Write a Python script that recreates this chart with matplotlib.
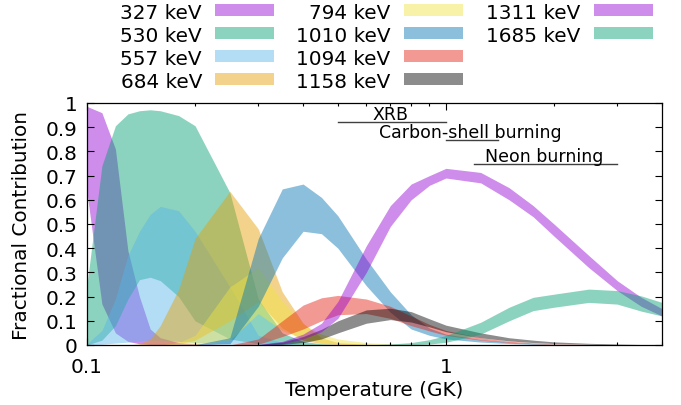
import matplotlib
matplotlib.use("Agg")
import matplotlib.pyplot as plt
from matplotlib.patches import Rectangle
from matplotlib.ticker import FixedLocator, FuncFormatter, NullFormatter

# temperature grid (GK)
temps = [0.10, 0.11, 0.12, 0.13, 0.14, 0.15, 0.16, 0.18, 0.20, 0.25, 0.30, 0.35, 0.40, 0.45,
         0.50, 0.60, 0.70, 0.80, 0.90, 1.00, 1.25, 1.50, 1.75, 2.00, 2.50, 3.00, 3.50, 4.00]

labels = ["327 keV", "530 keV", "557 keV", "684 keV", "794 keV",
          "1010 keV", "1094 keV", "1158 keV", "1311 keV", "1685 keV"]

# lower / upper fractional contributions for each resonance
lo_327 = [0.63, 0.17, 0.05, 0.015, 0.005, 0.002, 0.001, 0, 0, 0, 0, 0, 0, 0,
          0, 0, 0, 0, 0, 0, 0, 0, 0, 0, 0, 0, 0, 0]
hi_327 = [0.986, 0.96, 0.81, 0.39, 0.20, 0.066, 0.03, 0.01, 0.005, 0.001, 0, 0, 0, 0,
          0, 0, 0, 0, 0, 0, 0, 0, 0, 0, 0, 0, 0, 0]

lo_530 = [0, 0.02, 0.08, 0.19, 0.27, 0.28, 0.266, 0.20, 0.10, 0.025, 0.005, 0.001, 0, 0,
          0, 0, 0, 0, 0, 0, 0, 0, 0, 0, 0, 0, 0, 0]
hi_530 = [0.25, 0.74, 0.906, 0.955, 0.968, 0.972, 0.968, 0.948, 0.906, 0.63, 0.19, 0.05, 0.015, 0.005,
          0.002, 0, 0, 0, 0, 0, 0, 0, 0, 0, 0, 0, 0, 0]

lo_557 = [0, 0.003, 0.008, 0.012, 0.015, 0.02, 0.02, 0.015, 0.01, 0.004, 0, 0, 0, 0,
          0, 0, 0, 0, 0, 0, 0, 0, 0, 0, 0, 0, 0, 0]
hi_557 = [0.005, 0.06, 0.19, 0.37, 0.47, 0.54, 0.573, 0.555, 0.47, 0.24, 0.04, 0.01, 0, 0,
          0, 0, 0, 0, 0, 0, 0, 0, 0, 0, 0, 0, 0, 0]

lo_684 = [0, 0, 0, 0, 0, 0, 0, 0.005, 0.02, 0.10, 0.18, 0.07, 0.02, 0.005,
          0.002, 0, 0, 0, 0, 0, 0, 0, 0, 0, 0, 0, 0, 0]
hi_684 = [0, 0, 0, 0, 0.005, 0.025, 0.08, 0.23, 0.44, 0.635, 0.48, 0.22, 0.09, 0.03,
          0.01, 0.003, 0, 0, 0, 0, 0, 0, 0, 0, 0, 0, 0, 0]

lo_794 = [0, 0, 0, 0, 0, 0, 0, 0, 0, 0.02, 0.13, 0.06, 0.025, 0.01,
          0.005, 0.001, 0, 0, 0, 0, 0, 0, 0, 0, 0, 0, 0, 0]
hi_794 = [0, 0, 0, 0, 0, 0, 0, 0.01, 0.04, 0.24, 0.32, 0.18, 0.085, 0.045,
          0.025, 0.01, 0.004, 0.001, 0, 0, 0, 0, 0, 0, 0, 0, 0, 0]

lo_1010 = [0, 0, 0, 0, 0, 0, 0, 0, 0, 0.005, 0.16, 0.36, 0.47, 0.46,
           0.40, 0.245, 0.135, 0.066, 0.04, 0.025, 0.012, 0.006, 0.003, 0.001, 0, 0, 0, 0]
hi_1010 = [0, 0, 0, 0, 0, 0, 0, 0, 0.001, 0.03, 0.44, 0.645, 0.665, 0.61,
           0.534, 0.355, 0.22, 0.125, 0.07, 0.045, 0.022, 0.012, 0.006, 0.003, 0.001, 0, 0, 0]

lo_1094 = [0, 0, 0, 0, 0, 0, 0, 0, 0, 0, 0.003, 0.035, 0.066, 0.10,
           0.125, 0.13, 0.11, 0.08, 0.058, 0.04, 0.02, 0.01, 0.005, 0.003, 0.001, 0, 0, 0]
hi_1094 = [0, 0, 0, 0, 0, 0, 0, 0, 0, 0, 0.025, 0.10, 0.165, 0.195,
           0.205, 0.19, 0.16, 0.12, 0.085, 0.06, 0.03, 0.016, 0.009, 0.005, 0.002, 0.001, 0, 0]

lo_1158 = [0, 0, 0, 0, 0, 0, 0, 0, 0, 0, 0, 0.003, 0.01, 0.025,
           0.05, 0.09, 0.105, 0.095, 0.075, 0.055, 0.03, 0.017, 0.01, 0.006, 0.003, 0.001, 0, 0]
hi_1158 = [0, 0, 0, 0, 0, 0, 0, 0, 0, 0, 0.002, 0.012, 0.035, 0.065,
           0.10, 0.145, 0.152, 0.138, 0.108, 0.082, 0.05, 0.03, 0.02, 0.013, 0.007, 0.004, 0.002, 0.001]

lo_1311 = [0, 0, 0, 0, 0, 0, 0, 0, 0, 0, 0, 0.005, 0.025, 0.055,
           0.11, 0.30, 0.49, 0.60, 0.66, 0.69, 0.67, 0.60, 0.53, 0.45, 0.32, 0.225, 0.16, 0.12]
hi_1311 = [0, 0, 0, 0, 0, 0, 0, 0, 0, 0, 0.002, 0.015, 0.045, 0.09,
           0.18, 0.41, 0.576, 0.665, 0.70, 0.73, 0.713, 0.65, 0.576, 0.50, 0.37, 0.266, 0.197, 0.15]

lo_1685 = [0, 0, 0, 0, 0, 0, 0, 0, 0, 0, 0, 0, 0, 0,
           0, 0, 0, 0.001, 0.004, 0.011, 0.045, 0.10, 0.142, 0.156, 0.176, 0.169, 0.14, 0.12]
hi_1685 = [0, 0, 0, 0, 0, 0, 0, 0, 0, 0, 0, 0, 0, 0,
           0, 0.001, 0.004, 0.01, 0.022, 0.039, 0.094, 0.156, 0.197, 0.21, 0.231, 0.225, 0.203, 0.176]

lows = [lo_327, lo_530, lo_557, lo_684, lo_794, lo_1010, lo_1094, lo_1158, lo_1311, lo_1685]
highs = [hi_327, hi_530, hi_557, hi_684, hi_794, hi_1010, hi_1094, hi_1158, hi_1311, hi_1685]

colors = ["#9400D3", "#009E73", "#56B4E9", "#E69F00", "#F0E442",
          "#0072B2", "#E51E10", "#000000", "#9400D3", "#009E73"]
alpha = 0.45

# burning regimes: (label, T start, T end, line y, text x, text y)
regimes = [("XRB", 0.5, 1.0, 0.92, 0.70, 0.934),
           ("Carbon-shell burning", 1.0, 1.4, 0.848, 1.17, 0.858),
           ("Neon burning", 1.2, 3.0, 0.75, 1.88, 0.762)]

W, H = 681, 406
fs = 14.4
plt.rcParams["font.family"] = "DejaVu Sans"

fig = plt.figure(figsize=(W / 100, H / 100), dpi=100)
ax = fig.add_axes([87 / W, 1 - 346 / H, (662 - 87) / W, (346 - 104) / H])

for lo, hi, c in zip(lows, highs, colors):
    ax.fill_between(temps, lo, hi, color=c, alpha=alpha, lw=0)

for name, t0, t1, yl, tx, ty in regimes:
    ax.plot([t0, t1], [yl, yl], color="#404040", lw=1.0)
    ax.text(tx, ty, name, ha="center", va="baseline", fontsize=12.5)

ax.set_xscale("log")
ax.set_xlim(0.1, 4.0)
ax.set_ylim(0, 1)
ax.xaxis.set_major_locator(FixedLocator([0.1, 1]))
ax.xaxis.set_minor_locator(FixedLocator([0.2, 0.3, 0.4, 0.5, 0.6, 0.7, 0.8, 0.9, 2, 3, 4]))
ax.xaxis.set_major_formatter(FuncFormatter(lambda v, p: f"{v:g}"))
ax.xaxis.set_minor_formatter(NullFormatter())
ax.set_yticks([i / 10 for i in range(11)])
ax.yaxis.set_major_formatter(FuncFormatter(lambda v, p: f"{v:g}"))
ax.tick_params(which="both", direction="in", top=True, right=True, width=0.8, labelsize=fs)
ax.tick_params(which="major", length=5)
ax.tick_params(which="minor", length=2.5)
ax.tick_params(axis="x", pad=8.5)
ax.tick_params(axis="y", pad=7)
for s in ax.spines.values():
    s.set_linewidth(0.9)

fig.text(22 / W, 1 - 225 / H, "Fractional Contribution", rotation=90,
         ha="center", va="center", fontsize=fs)
fig.text(374 / W, 1 - 391 / H, "Temperature (GK)", ha="center", va="center", fontsize=fs)

# key: three columns, text right-aligned, swatch on the right
text_right = [202, 390, 580]
swatch_left = [215, 404, 594]
baselines = [19, 42, 65, 88]
for i, (lab, c) in enumerate(zip(labels, colors)):
    col, row = i // 4, i % 4
    fig.text(text_right[col] / W, 1 - baselines[row] / H, lab,
             ha="right", va="baseline", fontsize=fs)
    fig.patches.append(Rectangle((swatch_left[col] / W, 1 - (baselines[row] - 2) / H),
                                 59 / W, 12 / H, transform=fig.transFigure,
                                 facecolor=c, alpha=alpha, lw=0))

fig.savefig("out.png", dpi=100)
